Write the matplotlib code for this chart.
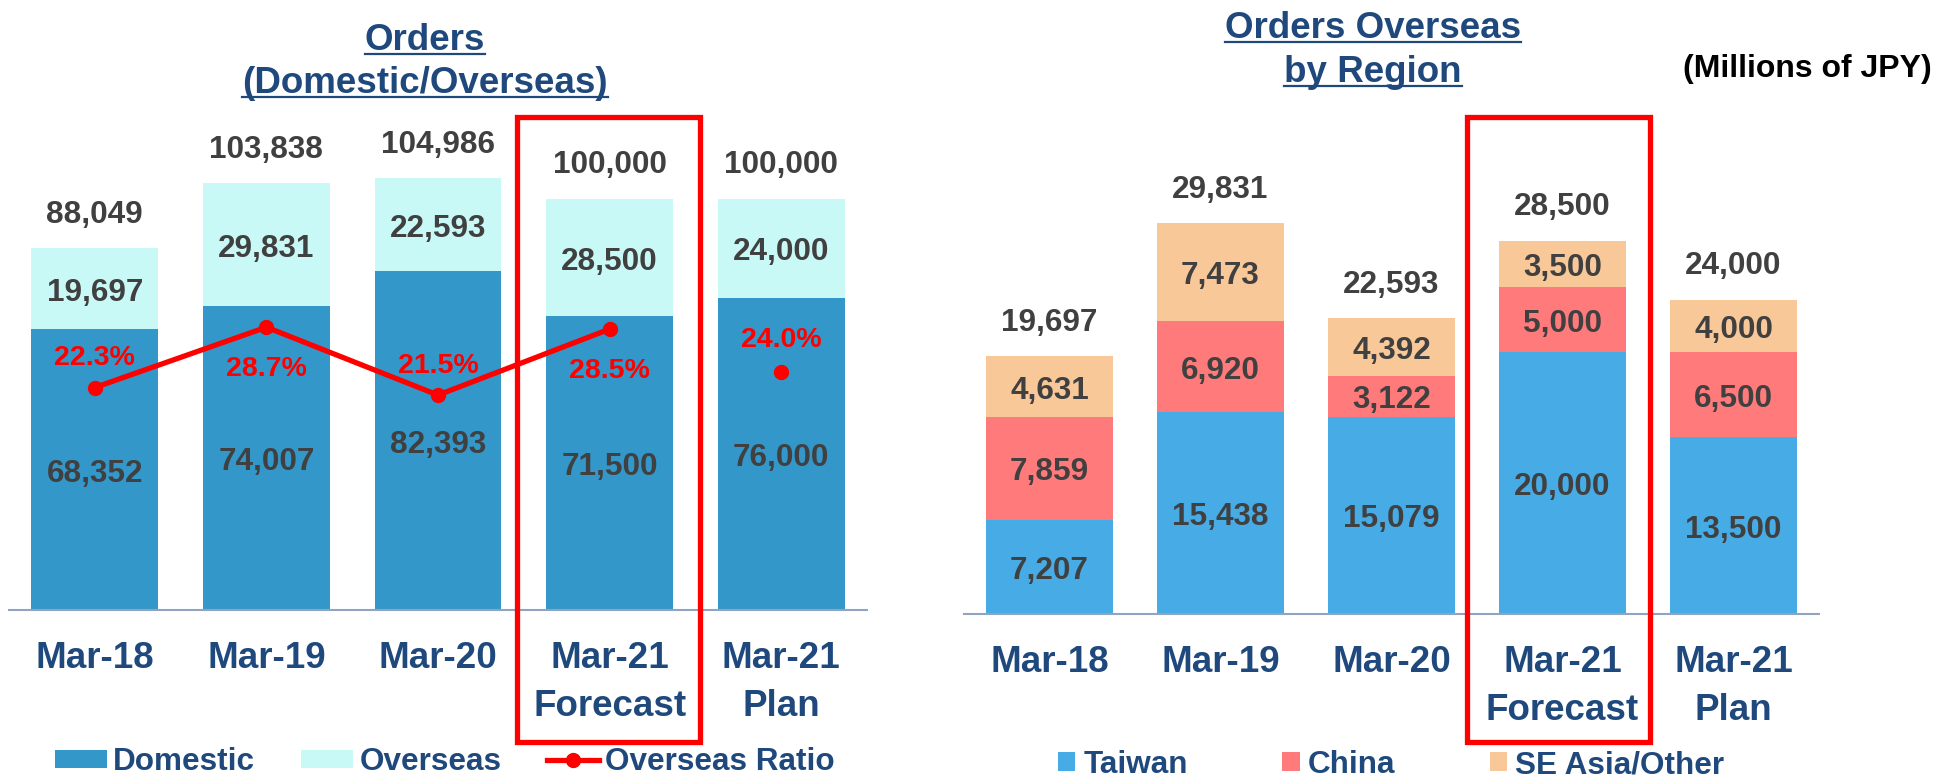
import numpy as np
import matplotlib
matplotlib.use("Agg")
import matplotlib.pyplot as plt
from matplotlib.patches import Rectangle, Patch
from matplotlib.lines import Line2D
from matplotlib.transforms import blended_transform_factory

plt.rcParams['font.family'] = ['Liberation Sans', 'DejaVu Sans']
plt.rcParams['font.weight'] = 'bold'

# data (millions of JPY)
periods = ['Mar-18', 'Mar-19', 'Mar-20', 'Mar-21\nForecast', 'Mar-21\nPlan']
domestic = [68352, 74007, 82393, 71500, 76000]
overseas = [19697, 29831, 22593, 28500, 24000]
order_total = [88049, 103838, 104986, 100000, 100000]
overseas_ratio = [22.3, 28.7, 21.5, 28.5, 24.0]

taiwan = [7207, 15438, 15079, 20000, 13500]
china = [7859, 6920, 3122, 5000, 6500]
se_asia = [4631, 7473, 4392, 3500, 4000]
overseas_total = [19697, 29831, 22593, 28500, 24000]

NAVY = '#1F497D'
GREY = '#404040'
RED = '#FF0000'
DOM = '#3497C9'
OVS = '#C9F9F7'
TW = '#47ABE5'
CN = '#FF7A7A'
SEA = '#F9C899'

W, H = 1937, 777
fig = plt.figure(figsize=(W / 100, H / 100), dpi=100)

ax1 = fig.add_axes([9 / W, 1 - 610 / H, 858 / W, 493 / H])
ax2 = fig.add_axes([964 / W, 1 - 614 / H, 855 / W, 497 / H])

x = np.arange(len(periods))
bw = 0.74
num_fs = 22.7


def style_axis(ax):
    for s in ['top', 'right', 'left']:
        ax.spines[s].set_visible(False)
    ax.spines['bottom'].set_color('#8EA4C0')
    ax.spines['bottom'].set_linewidth(1.5)
    ax.set_yticks([])
    ax.set_xlim(-0.5, 4.5)
    ax.set_xticks(x, periods)
    ax.tick_params(axis='x', length=0, pad=22, labelsize=26.5, labelcolor=NAVY)
    for lab in ax.get_xticklabels():
        lab.set_linespacing(1.5)
        lab.set_fontweight('bold')


def seg_label(ax, xi, yi, val):
    # centred in the segment (nudged for digits having no descent)
    ax.annotate(f'{val:,}', (xi, yi), xytext=(0, -3), textcoords='offset points',
                ha='center', va='center', fontsize=num_fs, color=GREY)


def top_label(ax, xi, yi, val):
    ax.annotate(f'{val:,}', (xi, yi), xytext=(0, 24), textcoords='offset points',
                ha='center', va='center', fontsize=num_fs, color=GREY)


# left: domestic / overseas
ax1.bar(x, domestic, bw, color=DOM)
ax1.bar(x, overseas, bw, bottom=domestic, color=OVS)
ax1.set_ylim(0, 119900)
style_axis(ax1)
for i in range(len(x)):
    seg_label(ax1, x[i], domestic[i] / 2, domestic[i])
    seg_label(ax1, x[i], domestic[i] + overseas[i] / 2, overseas[i])
    top_label(ax1, x[i], order_total[i], order_total[i])

axr = ax1.twinx()
axr.set_ylim(-1.3, 51)
axr.axis('off')
axr.plot(x[:4], overseas_ratio[:4], color=RED, lw=3.8, marker='o', ms=10)
axr.plot(x[4:], overseas_ratio[4:], color=RED, lw=0, marker='o', ms=10)
label_off = [21, -30, 21, -30, 23]
for i in range(len(x)):
    axr.annotate(f'{overseas_ratio[i]:.1f}%', (x[i], overseas_ratio[i]),
                 xytext=(0, label_off[i]), textcoords='offset points',
                 ha='center', va='center', fontsize=20.5, color=RED)

# right: overseas by region
ax2.bar(x, taiwan, bw, color=TW)
bot = np.array(taiwan)
ax2.bar(x, china, bw, bottom=bot, color=CN)
bot2 = bot + np.array(china)
ax2.bar(x, se_asia, bw, bottom=bot2, color=SEA)
ax2.set_ylim(0, 37950)
style_axis(ax2)
for i in range(len(x)):
    seg_label(ax2, x[i], taiwan[i] / 2, taiwan[i])
    seg_label(ax2, x[i], bot[i] + china[i] / 2, china[i])
    seg_label(ax2, x[i], bot2[i] + se_asia[i] / 2, se_asia[i])
    top_label(ax2, x[i], overseas_total[i], overseas_total[i])

# red highlight boxes round the forecast column
tr1 = blended_transform_factory(ax1.transData, ax1.transAxes)
ax1.add_patch(Rectangle((2.459, -0.268), 1.067, 1.268, transform=tr1, fill=False,
                        ec=RED, lw=3.8, clip_on=False, zorder=10))
tr2 = blended_transform_factory(ax2.transData, ax2.transAxes)
ax2.add_patch(Rectangle((2.44, -0.2575), 1.07, 1.2575, transform=tr2, fill=False,
                        ec=RED, lw=3.8, clip_on=False, zorder=10))

# legends
h1 = [Patch(fc=DOM), Patch(fc=OVS),
      Line2D([], [], color=RED, lw=3.8, marker='o', ms=10)]
fig.legend(h1, ['Domestic', 'Overseas', 'Overseas Ratio'], loc='center left',
           bbox_to_anchor=(55 / W, 1 - 762 / H), ncol=3, frameon=False,
           fontsize=22.7, labelcolor=NAVY, handlelength=1.65, handleheight=0.5,
           handletextpad=0.2, columnspacing=1.45, borderpad=0, borderaxespad=0)
h2 = [Patch(fc=TW), Patch(fc=CN), Patch(fc=SEA)]
fig.legend(h2, ['Taiwan', 'China', 'SE Asia/Other'], loc='center left',
           bbox_to_anchor=(1058 / W, 1 - 765 / H), ncol=3, frameon=False,
           fontsize=22.7, labelcolor=NAVY, handlelength=0.55, handleheight=0.55,
           handletextpad=0.25, columnspacing=3.0, borderpad=0, borderaxespad=0)

# titles (underlined)
titles = [('Orders', 425, 50), ('(Domestic/Overseas)', 425, 93),
          ('Orders Overseas', 1373, 38), ('by Region', 1373, 82)]
ttexts = []
for txt, cx, base in titles:
    t = fig.text(cx / W, 1 - base / H, txt, ha='center', va='baseline',
                 fontsize=26.5, color=NAVY)
    ttexts.append((t, base))
fig.text(1932 / W, 1 - 77 / H, '(Millions of JPY)', ha='right', va='baseline',
         fontsize=23, color='black')

fig.canvas.draw()
for t, base in ttexts:
    bb = t.get_window_extent()
    yy = 1 - (base + 4) / H
    fig.add_artist(Line2D([bb.x0 / W, bb.x1 / W], [yy, yy], color=NAVY, lw=1.6))

fig.savefig('out.png', dpi=100)
